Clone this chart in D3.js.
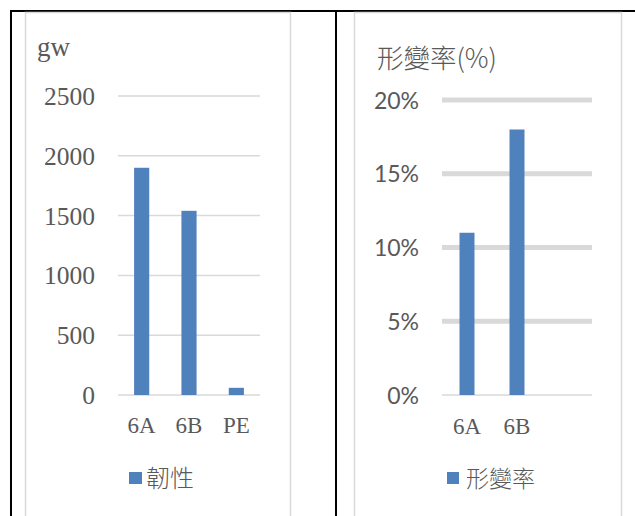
<!DOCTYPE html>
<html>
<head>
<meta charset="utf-8">
<script src="https://cdn.jsdelivr.net/npm/d3@7"></script>
<style>
  html, body { margin: 0; padding: 0; background: #fff; }
  svg { display: block; }
</style>
</head>
<body>
<svg id="chart" width="635" height="516"></svg>
<script>
// ---- data ----
const toughCategories = ["6A", "6B", "PE"];
const toughValues = [1900, 1540, 60];
const toughTicks = [0, 500, 1000, 1500, 2000, 2500];
const toughTitle = "gw";
const toughLegend = "韌性";

const strainCategories = ["6A", "6B", ""];
const strainValues = [0.11, 0.18, null];
const strainTicks = [0, 0.05, 0.10, 0.15, 0.20];
const strainTitle = "形變率(%)";
const strainLegend = "形變率";

// ---- drawing ----
const svg = d3.select("#chart");
const BAR = "#4f81bd";
const TXT = "#595959";
const GRID = "#d9d9d9";
const SERIF = "'Liberation Serif', 'DejaVu Serif', serif";
const SANS = "Lato, 'Liberation Sans', sans-serif";
const CJK = "'Noto Sans CJK TC', 'Noto Sans CJK SC', sans-serif";

// table borders
svg.append("line").attr("x1", 10).attr("x2", 635).attr("y1", 11).attr("y2", 11)
  .attr("stroke", "#000").attr("stroke-width", 2);
svg.append("line").attr("x1", 11).attr("x2", 11).attr("y1", 10).attr("y2", 516)
  .attr("stroke", "#000").attr("stroke-width", 2);
svg.append("line").attr("x1", 336).attr("x2", 336).attr("y1", 10).attr("y2", 516)
  .attr("stroke", "#000").attr("stroke-width", 2);

// chart frames
svg.append("rect").attr("x", 25.5).attr("y", 12.5).attr("width", 265).attr("height", 510)
  .attr("fill", "#fff").attr("stroke", GRID).attr("stroke-width", 1.5);
svg.append("rect").attr("x", 354.5).attr("y", 12.5).attr("width", 267).attr("height", 510)
  .attr("fill", "#fff").attr("stroke", GRID).attr("stroke-width", 1.5);

// ===== left chart: 韌性 =====
{
  const x = d3.scaleBand().domain(toughCategories).range([118, 260]).paddingInner(0.68).paddingOuter(0.34);
  const y = d3.scaleLinear().domain([0, 2500]).range([395, 96]);
  const g = svg.append("g");

  g.selectAll("line.grid").data(toughTicks).join("line")
    .attr("class", "grid")
    .attr("x1", 118).attr("x2", 260)
    .attr("y1", d => y(d)).attr("y2", d => y(d))
    .attr("stroke", GRID).attr("stroke-width", 1.5);

  g.selectAll("rect.bar").data(toughValues).join("rect")
    .attr("class", "bar")
    .attr("x", (d, i) => x(toughCategories[i]))
    .attr("width", x.bandwidth())
    .attr("y", d => y(d))
    .attr("height", d => y(0) - y(d))
    .attr("fill", BAR);

  const yAxis = d3.axisLeft(y).tickValues(toughTicks).tickSize(0).tickPadding(0).tickFormat(d3.format("d"));
  const ya = g.append("g").attr("transform", "translate(95,0)").call(yAxis);
  ya.select(".domain").remove();
  ya.selectAll("text").attr("font-family", SERIF).attr("font-size", 25.5).attr("fill", TXT).attr("dy", "0.33em");

  const xAxis = d3.axisBottom(x).tickSize(0).tickPadding(0);
  const xa = g.append("g").attr("transform", "translate(0,433)").call(xAxis);
  xa.select(".domain").remove();
  xa.selectAll("text").attr("font-family", SERIF).attr("font-size", 23).attr("fill", TXT).attr("dy", 0);

  g.append("text").attr("x", 37).attr("y", 56).text(toughTitle)
    .attr("font-family", SERIF).attr("font-size", 27).attr("fill", TXT);

  g.append("rect").attr("x", 129).attr("y", 472).attr("width", 13).attr("height", 12).attr("fill", BAR);
  g.append("text").attr("x", 146).attr("y", 487).text(toughLegend)
    .attr("font-family", CJK).attr("font-weight", 300).attr("font-size", 24).attr("fill", TXT);
}

// ===== right chart: 形變率 =====
{
  const x = d3.scaleBand().domain(strainCategories).range([442, 592]).paddingInner(0.7).paddingOuter(0.35);
  const y = d3.scaleLinear().domain([0, 0.2]).range([395, 100]);
  const g = svg.append("g");

  g.selectAll("line.grid").data(strainTicks).join("line")
    .attr("class", "grid")
    .attr("x1", 442).attr("x2", 592)
    .attr("y1", d => y(d)).attr("y2", d => y(d))
    .attr("stroke", GRID).attr("stroke-width", d => d === 0 ? 1.5 : 5);

  g.selectAll("rect.bar").data(strainValues.filter(v => v != null)).join("rect")
    .attr("class", "bar")
    .attr("x", (d, i) => x(strainCategories[i]))
    .attr("width", x.bandwidth())
    .attr("y", d => y(d))
    .attr("height", d => y(0) - y(d))
    .attr("fill", BAR);

  const yAxis = d3.axisLeft(y).tickValues(strainTicks).tickSize(0).tickPadding(0).tickFormat(d3.format(".0%"));
  const ya = g.append("g").attr("transform", "translate(419,0)").call(yAxis);
  ya.select(".domain").remove();
  ya.selectAll("text").attr("font-family", SANS).attr("font-size", 23).attr("fill", TXT).attr("dy", "0.35em");

  const xAxis = d3.axisBottom(x).tickSize(0).tickPadding(0);
  const xa = g.append("g").attr("transform", "translate(0,434)").call(xAxis);
  xa.select(".domain").remove();
  xa.selectAll("text").attr("font-family", SERIF).attr("font-size", 23).attr("fill", TXT).attr("dy", 0);

  g.append("text").attr("x", 377).attr("y", 68).text(strainTitle)
    .attr("font-family", CJK).attr("font-weight", 300).attr("font-size", 26.5).attr("fill", TXT);

  g.append("rect").attr("x", 447).attr("y", 472).attr("width", 12).attr("height", 12).attr("fill", BAR);
  g.append("text").attr("x", 466).attr("y", 487).text(strainLegend)
    .attr("font-family", CJK).attr("font-weight", 300).attr("font-size", 23).attr("fill", TXT);
}
</script>
</body>
</html>
